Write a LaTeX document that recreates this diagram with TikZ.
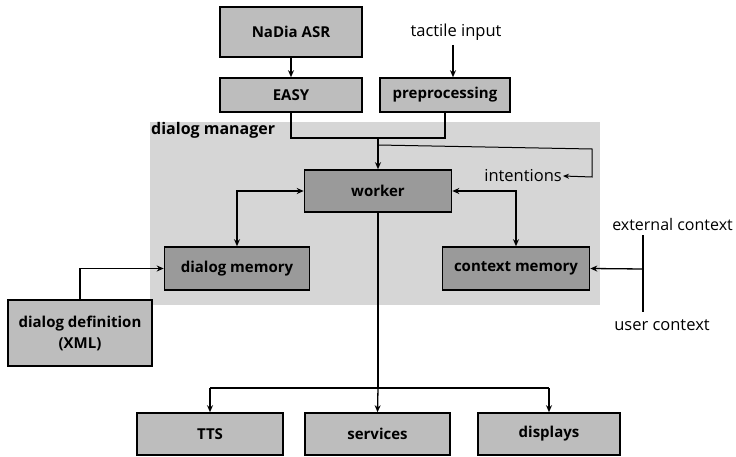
\documentclass[tikz,border=0pt]{standalone}
\usepackage{fontspec}
\setmainfont{Open Sans}
\usetikzlibrary{arrows.meta}
\definecolor{boxlight}{HTML}{BDBDBD}
\definecolor{boxdark}{HTML}{9A9A9A}
\definecolor{region}{HTML}{D6D6D6}
\tikzset{
  box/.style={draw=black, line width=1.6pt, fill=boxlight, font=\bfseries\fontsize{15}{17}\selectfont, inner sep=0pt},
  darkbox/.style={box, fill=boxdark},
  lbl/.style={font=\fontsize{16.5}{18}\selectfont, inner sep=1pt},
  conn/.style={line width=1.3pt, -{Stealth[length=7pt,width=6pt]}},
  both/.style={line width=1.3pt, {Stealth[length=7pt,width=6pt]}-{Stealth[length=7pt,width=6pt]}},
}
\begin{document}
\begin{tikzpicture}[x=1pt,y=-1pt]
\useasboundingbox (0,0) rectangle (736,457);
% dialog manager area
\fill[region] (150,122) rectangle (600,305);
\node[lbl, font=\bfseries\fontsize{16}{18}\selectfont, anchor=west] (dm) at (150,130) {dialog manager};

% input boxes
\node[box, minimum width=142pt, minimum height=50pt] (asr) at (291,32) {NaDia ASR};
\node[box, minimum width=142pt, minimum height=34pt] (easy) at (291,95) {EASY};
\node[box, minimum width=130pt, minimum height=34pt] (pre) at (445,95) {preprocessing};
\node[lbl] (tactile) at (456,32) {tactile input};

% core
\node[darkbox, minimum width=147pt, minimum height=42pt] (worker) at (378,191) {worker};
\node[darkbox, minimum width=145pt, minimum height=43pt] (dmem) at (237,268.5) {dialog memory};
\node[darkbox, minimum width=147pt, minimum height=43pt] (cmem) at (516,268.5) {context memory};
\node[lbl, anchor=east] (intent) at (563,176) {intentions};

% dialog definition
\node[box, minimum width=144pt, minimum height=66pt, align=center, font=\bfseries\fontsize{15}{21}\selectfont] (ddef) at (80,333) {dialog definition\\(XML)};

% context sources
\node[lbl, font=\fontsize{16}{18}\selectfont, anchor=east] (ext) at (734,224) {external context};
\node[lbl] (user) at (662,325) {user context};
\coordinate (cbarT) at (643,235);
\coordinate (cbarB) at (643,312);
\coordinate (cbarM) at (643,269);

% outputs
\node[box, minimum width=146pt, minimum height=42pt] (tts) at (210,434) {TTS};
\node[box, minimum width=145pt, minimum height=42pt] (serv) at (377.5,434) {services};
\node[box, minimum width=142pt, minimum height=42pt] (disp) at (549,434) {displays};

% connectors
\draw[conn] (asr) -- (easy);
\draw[conn] (453,45) coordinate (tin) -- (tin |- pre.north);
\draw[line width=1.3pt] (easy.south) |- (291,138) -| (pre.south);
\draw[conn] (378,138) -- (worker.north);
\draw[line width=1pt, -{Stealth[length=6pt,width=5pt]}] (378,145) -- (592,149) -- (592,177) -- (intent.east);
\draw[both] (dmem.north) |- (worker.west);
\draw[both] (cmem.north) |- (worker.east);
\draw[conn] (ddef.north) |- (dmem.west);
\draw[line width=1.6pt] (cbarT) -- (cbarB);
\draw[conn] (cbarM) -- (cmem.east);
\draw[line width=1.3pt] (worker.south) -- (378,388);
\draw[conn] (tts.north |- 0,388) -- (tts.north);
\draw[conn] (378,388) -- (serv.north);
\draw[conn] (disp.north |- 0,388) -- (disp.north);
\draw[line width=1.3pt] (tts.north |- 0,388) -- (disp.north |- 0,388);
\end{tikzpicture}
\end{document}
